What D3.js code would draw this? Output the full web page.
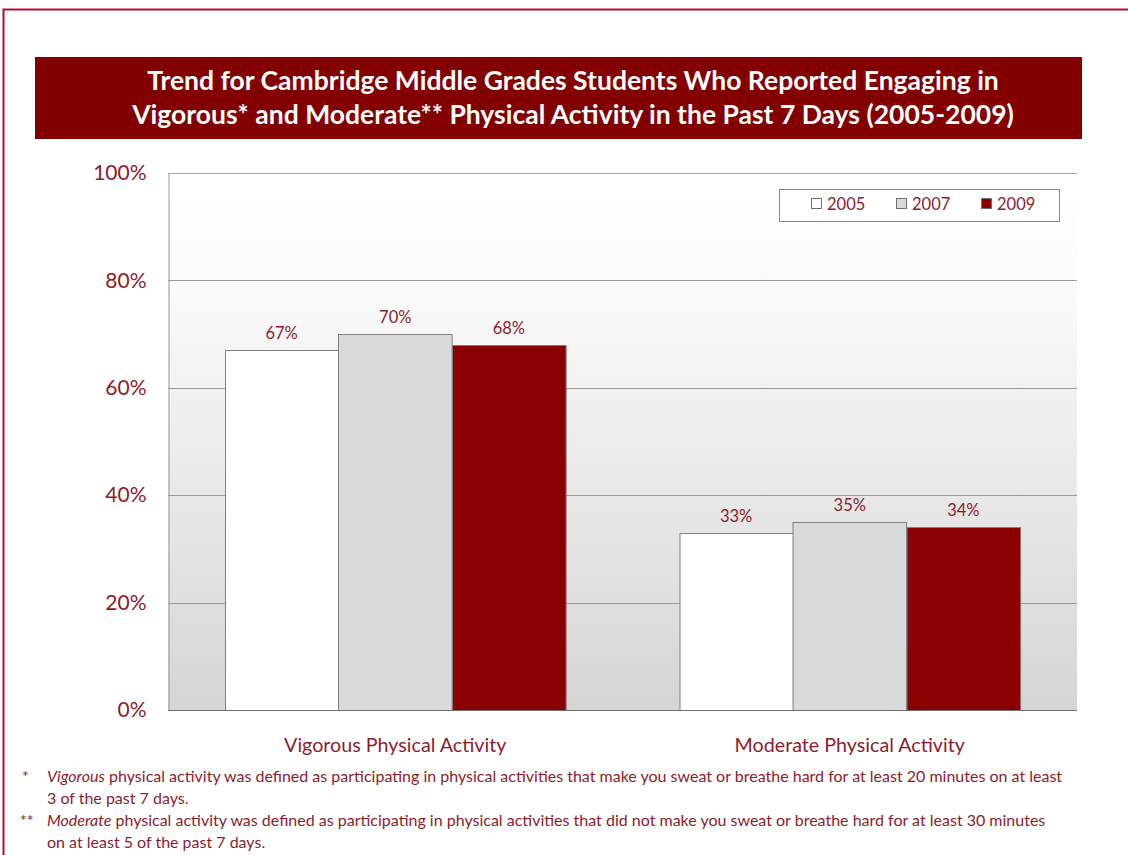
<!DOCTYPE html>
<html>
<head>
<meta charset="utf-8">
<script src="https://cdn.jsdelivr.net/npm/d3@7"></script>
<style>
  body { margin: 0; background: #fff; }
  svg { display: block; font-family: Lato, "Open Sans", sans-serif; }
</style>
</head>
<body>
<svg id="chart" width="1128" height="855"></svg>
<script>
// chart data
const categories = ["Vigorous Physical Activity", "Moderate Physical Activity"];
const years = ["2005", "2007", "2009"];
const values2005 = [67, 33];
const values2007 = [70, 35];
const values2009 = [68, 34];
const yTicks = [0, 20, 40, 60, 80, 100];
const titleLines = [
  "Trend for Cambridge Middle Grades Students Who Reported Engaging in",
  "Vigorous* and Moderate** Physical Activity in the Past 7 Days (2005-2009)"
];

const series = [values2005, values2007, values2009];
const fills = ["#ffffff", "#d9d9d9", "#8b0000"];
const textRed = "#8c1c2c";

const svg = d3.select("#chart");

// outer frame
svg.append("rect")
  .attr("x", 3.5).attr("y", 9.5)
  .attr("width", 1140).attr("height", 860)
  .attr("fill", "none")
  .attr("stroke", "#b0102a")
  .attr("stroke-width", 2);

// title band
svg.append("rect")
  .attr("x", 35).attr("y", 57)
  .attr("width", 1047).attr("height", 82)
  .attr("fill", "#820000");

svg.selectAll(".title")
  .data(titleLines)
  .enter().append("text")
    .attr("class", "title")
    .attr("x", 573)
    .attr("y", (d, i) => 90 + i * 34)
    .attr("text-anchor", "middle")
    .attr("fill", "#fff")
    .attr("font-weight", "bold")
    .attr("font-size", 26.5)
    .text(d => d);

// plot area
const plotLeft = 168, plotRight = 1077, plotTop = 173, plotBottom = 710;

const x0 = d3.scaleBand().domain(categories).range([plotLeft, plotRight]).paddingInner(0).paddingOuter(0);
const x1 = d3.scaleBand().domain(years).range([0, x0.bandwidth()]).paddingInner(0).paddingOuter(0.5);
const y = d3.scaleLinear().domain([0, 100]).range([plotBottom, plotTop]);

const defs = svg.append("defs");
const grad = defs.append("linearGradient")
  .attr("id", "bg").attr("x1", 0).attr("y1", 0).attr("x2", 0).attr("y2", 1);
grad.append("stop").attr("offset", "0%").attr("stop-color", "#ffffff");
grad.append("stop").attr("offset", "20%").attr("stop-color", "#fbfbfb");
grad.append("stop").attr("offset", "100%").attr("stop-color", "#d5d5d5");

svg.append("rect")
  .attr("x", plotLeft).attr("y", plotTop)
  .attr("width", plotRight - plotLeft).attr("height", plotBottom - plotTop)
  .attr("fill", "url(#bg)");

// gridlines
svg.append("g")
  .selectAll("line")
  .data(yTicks.filter(t => t > 0))
  .enter().append("line")
    .attr("x1", plotLeft).attr("x2", plotRight)
    .attr("y1", d => Math.round(y(d)) + 0.5)
    .attr("y2", d => Math.round(y(d)) + 0.5)
    .attr("stroke", d => d === 100 ? "#a8a8a8" : "#9a9a9a")
    .attr("stroke-width", 1);

// y axis
const yAxis = svg.append("g")
  .attr("transform", `translate(${plotLeft + 0.5},0)`)
  .call(d3.axisLeft(y).tickValues(yTicks).tickSize(0).tickPadding(22).tickFormat(d => d + "%"));
yAxis.select(".domain").attr("stroke", "#9a9a9a");
yAxis.selectAll("text")
  .attr("fill", textRed)
  .attr("font-size", 21)
  .attr("font-family", "Lato, 'Open Sans', sans-serif");

// bars
const groups = svg.append("g")
  .selectAll("g")
  .data(categories)
  .enter().append("g")
    .attr("transform", d => `translate(${x0(d)},0)`);

groups.selectAll("rect")
  .data((d, i) => years.map((yr, j) => ({ year: yr, value: series[j][i], fill: fills[j] })))
  .enter().append("rect")
    .attr("x", d => Math.round(x1(d.year)) + 0.5)
    .attr("y", d => Math.round(y(d.value)) + 0.5)
    .attr("width", x1.bandwidth())
    .attr("height", d => plotBottom - Math.round(y(d.value)))
    .attr("fill", d => d.fill)
    .attr("stroke", "#808080")
    .attr("stroke-width", 1);

groups.selectAll("text")
  .data((d, i) => years.map((yr, j) => ({ year: yr, value: series[j][i] })))
  .enter().append("text")
    .attr("x", d => x1(d.year) + x1.bandwidth() / 2)
    .attr("y", d => y(d.value) - 11)
    .attr("text-anchor", "middle")
    .attr("fill", textRed)
    .attr("font-size", 16.5)
    .text(d => d.value + "%");

// x axis baseline
svg.append("line")
  .attr("x1", plotLeft).attr("x2", plotRight)
  .attr("y1", plotBottom + 0.5).attr("y2", plotBottom + 0.5)
  .attr("stroke", "#707070");

// category labels
svg.append("g")
  .selectAll("text")
  .data(categories)
  .enter().append("text")
    .attr("x", d => x0(d) + x0.bandwidth() / 2)
    .attr("y", 752)
    .attr("text-anchor", "middle")
    .attr("fill", textRed)
    .attr("font-size", 19.7)
    .text(d => d);

// legend
const legend = svg.append("g");
legend.append("rect")
  .attr("x", 779.5).attr("y", 189.5)
  .attr("width", 280).attr("height", 32)
  .attr("fill", "#fff")
  .attr("stroke", "#8a8a8a");

const legendX = [811, 896, 981];
const item = legend.selectAll(".item")
  .data(years)
  .enter().append("g")
    .attr("class", "item")
    .attr("transform", (d, i) => `translate(${legendX[i]},204)`);
item.append("rect")
  .attr("x", 0.5).attr("y", -5.5)
  .attr("width", 10).attr("height", 10)
  .attr("fill", (d, i) => fills[i])
  .attr("stroke", "#707070");
item.append("text")
  .attr("x", 16).attr("y", 6)
  .attr("fill", textRed)
  .attr("font-size", 16.5)
  .text(d => d);

// footnotes
const notes = [
  { mark: "*", em: "Vigorous", rest: " physical activity was defined as participating in physical activities that make you sweat or breathe hard for at least 20 minutes on at least", line2: "3 of the past 7 days." },
  { mark: "**", em: "Moderate", rest: " physical activity was defined as participating in physical activities that did not make you sweat or breathe hard for at least 30 minutes", line2: "on at least 5 of the past 7 days." }
];
const fn = svg.append("g").attr("fill", textRed).attr("font-size", 16);
notes.forEach((n, i) => {
  const yy = 782 + i * 44;
  fn.append("text").attr("x", i === 0 ? 22 : 20).attr("y", yy).text(n.mark);
  const t = fn.append("text").attr("x", 47).attr("y", yy);
  t.append("tspan").attr("font-style", "italic").text(n.em);
  t.append("tspan").text(n.rest);
  fn.append("text").attr("x", 47).attr("y", yy + 22).text(n.line2);
});
</script>
</body>
</html>
